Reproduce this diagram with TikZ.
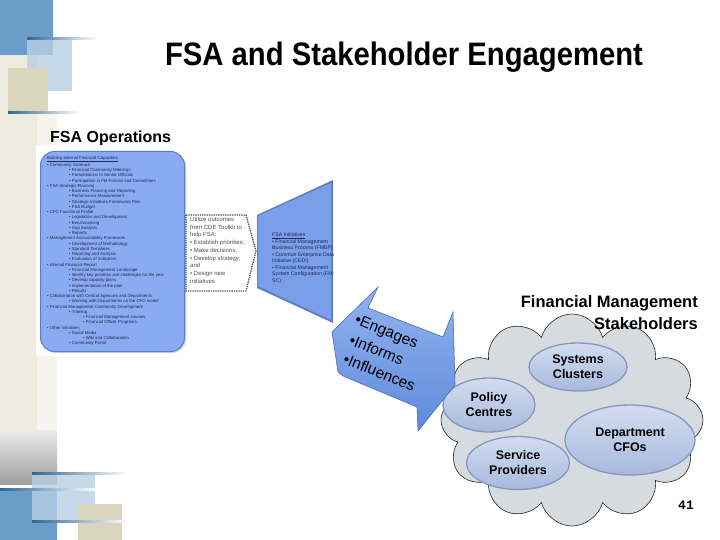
\documentclass[tikz,border=0pt]{standalone}
\usepackage{fontspec}
\setmainfont{Liberation Sans}
\newfontfamily\titlefont[FakeStretch=0.9]{Liberation Sans}
\newfontfamily\numfont{Liberation Mono}
\usetikzlibrary{shapes.geometric,shapes.symbols,shadows}
\definecolor{decoblue}{HTML}{6A9EC8}
\definecolor{decolight}{HTML}{B7CFE4}
\definecolor{decobeige}{HTML}{D9D6BD}
\definecolor{decoline}{HTML}{2F6690}
\definecolor{stripbeige}{HTML}{EEECDF}
\definecolor{boxblue}{HTML}{8AAAF3}
\definecolor{boxedge}{HTML}{5C7CC4}
\definecolor{trapblue}{HTML}{7B9EEA}
\definecolor{arrowtop}{HTML}{92B3F2}
\definecolor{arrowbot}{HTML}{5F8ADA}
\definecolor{cloudgray}{HTML}{D5DBDE}
\definecolor{ovaltop}{HTML}{D3DDF0}
\definecolor{ovalbot}{HTML}{A7B9DC}
\definecolor{ovalline}{HTML}{8497C0}
\definecolor{smalltext}{HTML}{1C2A52}
\begin{document}
\begin{tikzpicture}[
      x=1pt, y=-1pt,
      every node/.style={inner sep=0pt},
      groupe/.style={
        ellipse,
        draw=ovalline,
        line width=1.3pt,
        top color=ovaltop,
        bottom color=ovalbot,
        align=center,
        font=\bfseries\fontsize{12.5}{15}\selectfont
      },
      minitexte/.style={
        align=left,
        anchor=north west,
        text=smalltext
      },
      verbe/.style={
        rotate=-22,
        anchor=west,
        font=\fontsize{15.5}{18}\selectfont
      },
      filet/.style={left color=decoline, right color=white}
    ]
    \useasboundingbox (0,0) rectangle (720,540);
    % decor on the left
    \fill[stripbeige] (0,0) rectangle (37,440);
    \fill[stripbeige!55] (37,113) rectangle (57,440);
    \fill[decoblue] (0,0) rectangle (53,55);
    \fill[decolight, opacity=0.8] (27,38) rectangle (72,91);
    \fill[decobeige] (8,68) rectangle (48,113);
    \fill[filet] (27,37.5) rectangle (97,39.5);
    \fill[filet] (8,112) rectangle (80,114);
    \shade[top color=gray!15, bottom color=gray!75] (0,430) rectangle (57,484);
    \fill[decoblue] (0,489) rectangle (57,540);
    \fill[decolight, opacity=0.8] (32,473) rectangle (95,521);
    \fill[decobeige] (78,504) rectangle (122,540);
    \fill[filet] (32,472) rectangle (128,474);
    \fill[filet] (0,488) rectangle (95,490);
    \fill[filet] (32,520) rectangle (128,522);

    \node (titre) at (404,57) {\titlefont\bfseries\fontsize{32.5}{36}\selectfont FSA and Stakeholder Engagement};
    \node[anchor=west] (ops) at (50,138) {\bfseries\fontsize{16}{18}\selectfont FSA Operations};

    % operations box
    \fill[white] (36,145) rectangle (188,356);
    \node[draw=boxedge, line width=1pt, fill=boxblue, rounded corners=14pt,
          drop shadow={shadow xshift=1.5pt, shadow yshift=-1.5pt, opacity=0.35},
          minimum width=144, minimum height=200, anchor=north west] (boite) at (40,151) {};
    \node[minitexte, font=\fontsize{4.3}{5.25}\selectfont] (liste) at (47,156) {%
      \underline{Building Internal Financial Capacities}\\
      \textbullet\ Community Outreach\\
      \hspace*{22pt}\textbullet\ Financial Community Meetings\\
      \hspace*{22pt}\textbullet\ Presentations to Senior Officials\\
      \hspace*{22pt}\textbullet\ Participation in FM Forums and Committees\\
      \textbullet\ FSA Strategic Planning\\
      \hspace*{22pt}\textbullet\ Business Planning and Reporting\\
      \hspace*{22pt}\textbullet\ Performance Measurement\\
      \hspace*{22pt}\textbullet\ Strategic Initiatives Framework Plan\\
      \hspace*{22pt}\textbullet\ FSA Budget\\
      \textbullet\ CFO Functional Profile\\
      \hspace*{22pt}\textbullet\ Legislation and Development\\
      \hspace*{22pt}\textbullet\ Benchmarking\\
      \hspace*{22pt}\textbullet\ Gap Analysis\\
      \hspace*{22pt}\textbullet\ Reports\\
      \textbullet\ Management Accountability Framework\\
      \hspace*{22pt}\textbullet\ Development of Methodology\\
      \hspace*{22pt}\textbullet\ Standard Templates\\
      \hspace*{22pt}\textbullet\ Reporting and Analysis\\
      \hspace*{22pt}\textbullet\ Evaluation of Indicators\\
      \textbullet\ Internal Financial Report\\
      \hspace*{22pt}\textbullet\ Financial Management Landscape\\
      \hspace*{22pt}\textbullet\ Identify key priorities and challenges for the year\\
      \hspace*{22pt}\textbullet\ Develop capacity plans\\
      \hspace*{22pt}\textbullet\ Implementation of the plan\\
      \hspace*{22pt}\textbullet\ Results\\
      \textbullet\ Collaboration with Central Agencies and Departments\\
      \hspace*{22pt}\textbullet\ Working with Departments on the CFO model\\
      \textbullet\ Financial Management Community Development\\
      \hspace*{22pt}\textbullet\ Training\\
      \hspace*{36pt}\textbullet\ Financial Management courses\\
      \hspace*{36pt}\textbullet\ Financial Officer Programs\\
      \textbullet\ Other Initiatives\\
      \hspace*{22pt}\textbullet\ Social Media\\
      \hspace*{36pt}\textbullet\ Wiki and Collaboration\\
      \hspace*{22pt}\textbullet\ Community Portal};

    % CDE toolkit box
    \draw[densely dotted, line width=1.3pt, draw=boxedge!60!black]
      (186,215) -- (246,215) -- (256,251) -- (246,291) -- (186,291) -- cycle;
    \node[minitexte, text=black!70, font=\fontsize{6}{7.7}\selectfont] (outils) at (190,217) {%
      Utilize outcomes\\
      from CDE Toolkit to\\
      help FSA:\\
      \textbullet\ Establish priorities;\\
      \textbullet\ Make decisions;\\
      \textbullet\ Develop strategy;\\
      and\\
      \textbullet\ Design new\\
      initiatives};

    % initiatives trapezoid
    \fill[trapblue!80!black] (257,215) -- (333,180) -- (333,323) -- (257,288) -- cycle;
    \fill[trapblue] (258,216) -- (331,183) -- (331,320) -- (258,286) -- cycle;
    \node[minitexte, font=\fontsize{5.2}{6.5}\selectfont] (initiatives) at (272,233) {%
      \underline{FSA Initiatives}\\
      \textbullet\ Financial Management\\
      Business Process (FMBP)\\
      \textbullet\ Common Enterprise Data\\
      Initiative (CEDI)\\
      \textbullet\ Financial Management\\
      System Configuration (FM-\\
      SC)};

    % stakeholder cloud
    \node[cloud, cloud puffs=12, aspect=1.25, draw=black!85, line width=0.6pt,
          fill=cloudgray, minimum width=262, minimum height=212] (nuage) at (572,420) {};
    \node[anchor=east, align=right, font=\bfseries\fontsize{16.5}{22}\selectfont] (fm) at (698,313) {Financial Management\\Stakeholders};

    \node[groupe, minimum width=98, minimum height=48] (sys) at (578,367) {Systems\\Clusters};
    \node[groupe, minimum width=92, minimum height=54] (pol) at (489,405) {Policy\\Centres};
    \node[groupe, minimum width=103, minimum height=53] (srv) at (518,463) {Service\\Providers};
    \node[groupe, minimum width=130, minimum height=70] (cfo) at (630,440) {Department\\CFOs};

    % double arrow
    \shade[top color=arrowtop, bottom color=arrowbot, draw=arrowbot!80!black, line width=0.6pt]
      (378,287) -- (332,332) -- (338,372) -- (343,376) -- (417,407) -- (418,431)
      -- (455,385) -- (453,312) -- (443,337) -- (368,308) -- cycle;
    \node[verbe] (eng) at (355,320) {\textbullet Engages};
    \node[verbe] (inf) at (350,339) {\textbullet Informs};
    \node[verbe] (flu) at (344,358) {\textbullet Influences};

    \node (page) at (686,505) {\numfont\bfseries\fontsize{13}{15}\selectfont 41};
  \end{tikzpicture}
\end{document}
